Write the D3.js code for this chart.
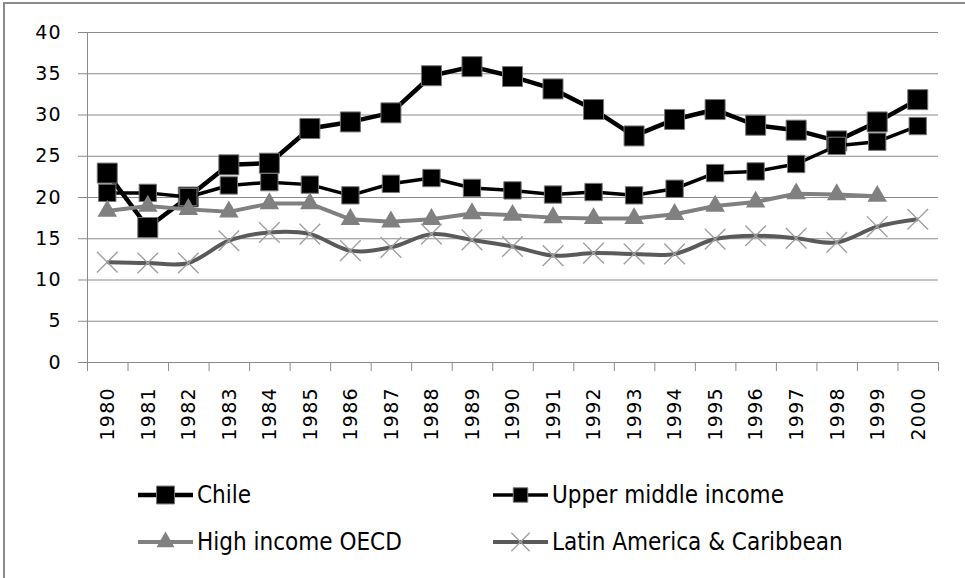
<!DOCTYPE html>
<html>
<head>
<meta charset="utf-8">
<script src="https://cdn.jsdelivr.net/npm/d3@7"></script>
<style>
  body { margin: 0; background: #fff; }
  .axis path, .axis line { stroke: #8a8a8a; }
  .axis text { font-family: "DejaVu Sans", sans-serif; font-size: 19px; fill: #000; letter-spacing: 1.3px; }
  .grid line { stroke: #8a8a8a; }
  .grid path { display: none; }
  .legend text { font-family: "Liberation Sans Narrow", "DejaVu Sans Condensed", "Liberation Sans", sans-serif; font-size: 24px; fill: #000; }
</style>
</head>
<body>
<script>
const years = ['1980', '1981', '1982', '1983', '1984', '1985', '1986', '1987', '1988', '1989', '1990',
               '1991', '1992', '1993', '1994', '1995', '1996', '1997', '1998', '1999', '2000'];
const yTicks = [0, 5, 10, 15, 20, 25, 30, 35, 40];

const chile       = [22.9, 16.3, 20.0, 23.9, 24.1, 28.3, 29.1, 30.2, 34.7, 35.8, 34.6, 33.1, 30.6, 27.4, 29.4, 30.6, 28.7, 28.1, 26.8, 29.1, 31.8];
const upperMiddle = [20.5, 20.5, 20.0, 21.4, 21.8, 21.5, 20.2, 21.6, 22.3, 21.1, 20.8, 20.3, 20.6, 20.2, 21.0, 22.9, 23.1, 24.0, 26.2, 26.7, 28.6];
const highOecd    = [18.3, 18.9, 18.5, 18.2, 19.2, 19.2, 17.3, 17.0, 17.3, 18.0, 17.8, 17.5, 17.4, 17.4, 17.9, 18.9, 19.4, 20.4, 20.3, 20.1, null];
const latam       = [12.1, 12.0, 12.0, 14.7, 15.7, 15.5, 13.5, 13.9, 15.5, 14.8, 14.0, 12.9, 13.2, 13.1, 13.1, 14.9, 15.3, 15.0, 14.5, 16.4, 17.3];

const width = 965;
const height = 578;
const plot = { left: 87, right: 938, top: 32, bottom: 362 };

const svg = d3.select('body').append('svg')
  .attr('width', width)
  .attr('height', height);

// chart frame (runs off the right and bottom edges)
svg.append('rect')
  .attr('x', 4).attr('y', 3)
  .attr('width', 1000).attr('height', 620)
  .attr('fill', '#fff')
  .attr('stroke', '#8a8a8a')
  .attr('stroke-width', 2);

const x = d3.scaleBand().domain(years).range([plot.left, plot.right]);
const xEdge = d3.scaleLinear().domain([0, years.length]).range([plot.left, plot.right]);
const y = d3.scaleLinear().domain([0, 40]).range([plot.bottom, plot.top]);
const cx = (i) => x(years[i]) + x.bandwidth() / 2;

// gridlines
svg.append('g')
  .attr('class', 'grid')
  .attr('transform', `translate(${plot.left},0)`)
  .call(d3.axisRight(y).tickValues(yTicks.slice(1)).tickSize(plot.right - plot.left).tickFormat(''));

// y axis
svg.append('g')
  .attr('class', 'axis')
  .attr('transform', `translate(${plot.left},0)`)
  .call(d3.axisLeft(y).tickValues(yTicks).tickSize(9).tickSizeOuter(0).tickPadding(16));

// x axis: tick marks at category edges, labels at centres
svg.append('g')
  .attr('class', 'axis')
  .attr('transform', `translate(0,${plot.bottom})`)
  .call(d3.axisBottom(xEdge).ticks(years.length).tickSize(9).tickSizeOuter(0).tickFormat(''));

svg.append('g')
  .attr('class', 'axis')
  .attr('transform', `translate(0,${plot.bottom})`)
  .call(d3.axisBottom(x).tickSize(0))
  .call((g) => g.select('.domain').remove())
  .selectAll('text')
  .attr('transform', 'rotate(-90)')
  .attr('x', -25)
  .attr('y', 0)
  .attr('dy', '0.36em')
  .attr('text-anchor', 'end');

const series = [
  { name: 'Chile', values: chile, color: '#000', width: 4.5, curve: d3.curveLinear,
    symbol: d3.symbolSquare, size: 400, fill: '#000', stroke: '#777', sw: 1, legendSize: 320, legendWidth: 4.5 },
  { name: 'Upper middle income', values: upperMiddle, color: '#000', width: 3.5, curve: d3.curveLinear,
    symbol: d3.symbolSquare, size: 300, fill: '#000', stroke: '#777', sw: 1, legendSize: 210, legendWidth: 3.5 },
  { name: 'High income OECD', values: highOecd, color: '#808080', width: 4, curve: d3.curveLinear,
    symbol: d3.symbolTriangle, size: 165, fill: '#808080', stroke: 'none', sw: 0, legendSize: 140, legendWidth: 4 },
  { name: 'Latin America & Caribbean', values: latam, color: '#5a5a5a', width: 4, curve: d3.curveCardinal,
    symbol: d3.symbolX, size: 280, fill: 'none', stroke: '#a0a0a0', sw: 1.4, legendSize: 220, legendWidth: 4 }
];

const line = (s) => d3.line()
  .defined((d) => d != null)
  .x((d, i) => cx(i))
  .y((d) => y(d))
  .curve(s.curve);

series.forEach((s) => {
  const g = svg.append('g');
  g.append('path')
    .datum(s.values)
    .attr('fill', 'none')
    .attr('stroke', s.color)
    .attr('stroke-width', s.width)
    .attr('stroke-linejoin', 'round')
    .attr('d', line(s));

  g.selectAll('path.marker')
    .data(s.values.map((v, i) => ({ v, i })).filter((d) => d.v != null))
    .enter()
    .append('path')
    .attr('class', 'marker')
    .attr('transform', (d) => `translate(${cx(d.i)},${y(d.v)})`)
    .attr('d', d3.symbol(s.symbol, s.size))
    .attr('fill', s.fill)
    .attr('stroke', s.stroke)
    .attr('stroke-width', s.sw);
});

// legend
const legendPos = [[138, 495], [493, 495], [138, 542], [493, 542]];
const legend = svg.append('g').attr('class', 'legend');

series.forEach((s, k) => {
  const [lx, ly] = legendPos[k];
  const g = legend.append('g').attr('transform', `translate(${lx},${ly})`);
  g.append('line')
    .attr('x1', 0).attr('x2', 55)
    .attr('stroke', s.color)
    .attr('stroke-width', s.legendWidth);
  g.append('path')
    .attr('transform', 'translate(27.5,0)')
    .attr('d', d3.symbol(s.symbol, s.legendSize))
    .attr('fill', s.fill)
    .attr('stroke', s.stroke)
    .attr('stroke-width', s.sw);
  g.append('text')
    .attr('x', 59)
    .attr('dy', '0.35em')
    .text(s.name);
});
</script>
</body>
</html>
